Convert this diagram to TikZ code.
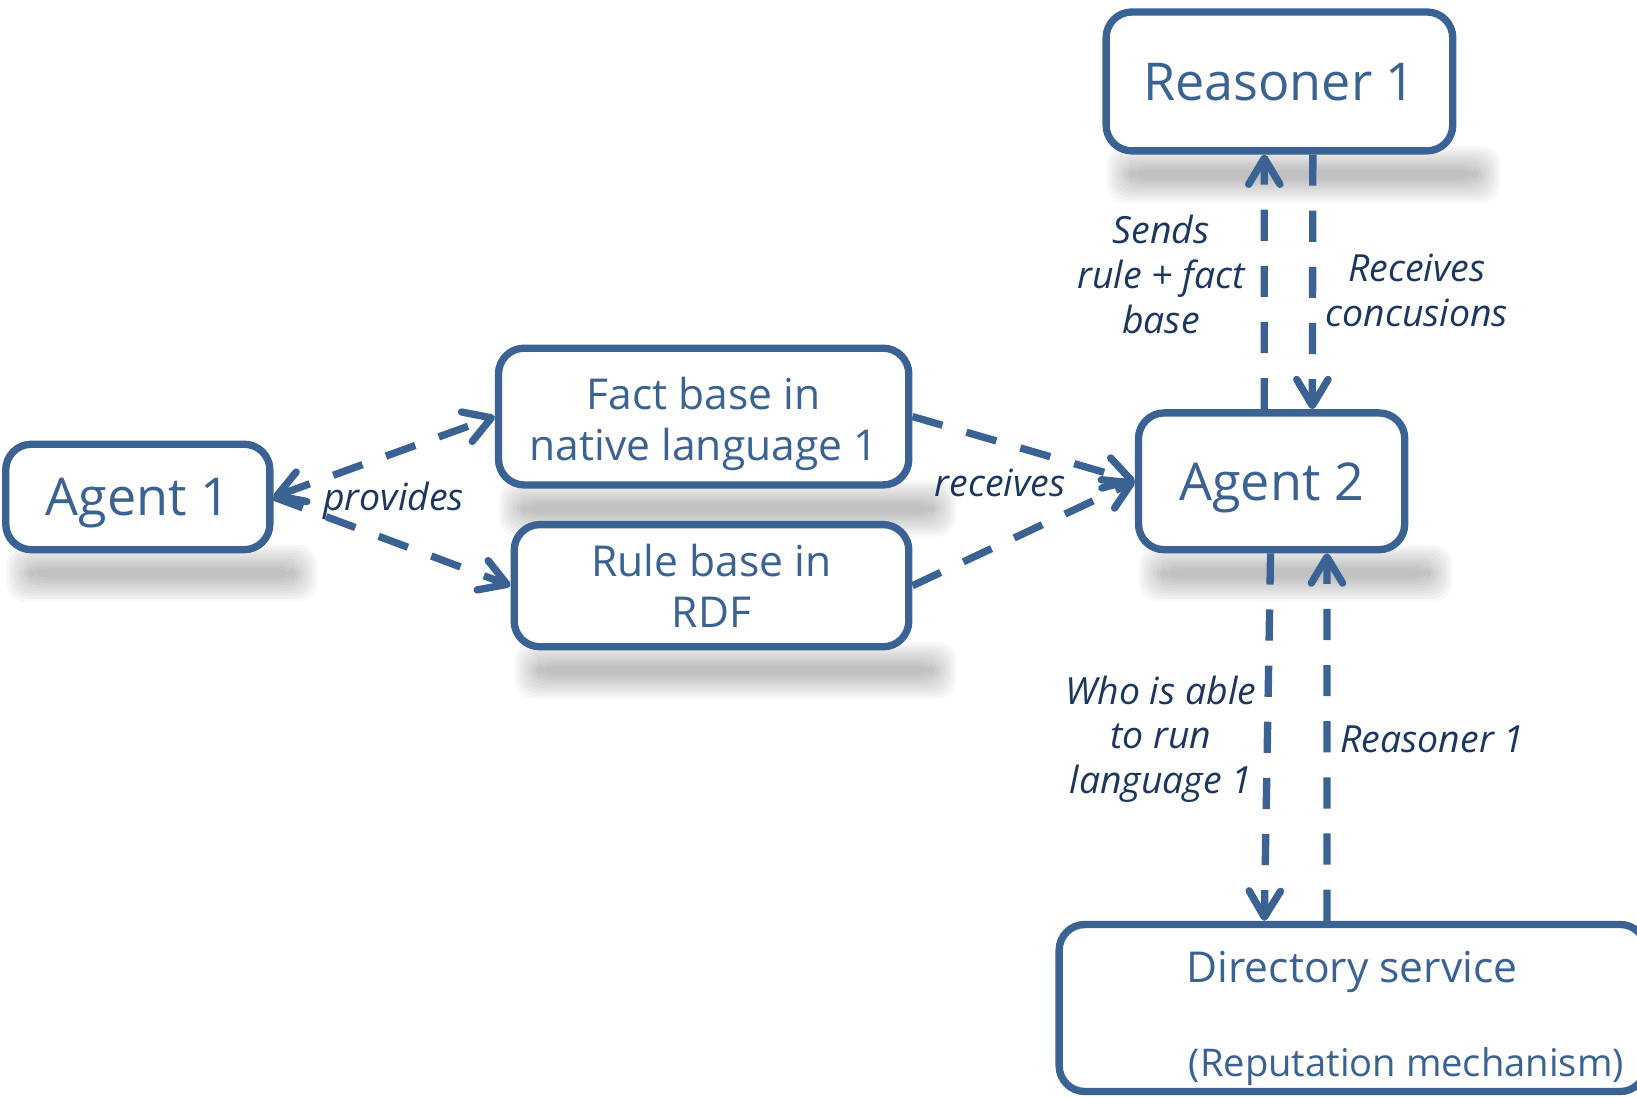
\documentclass[tikz,border=0pt]{standalone}
\usepackage{fontspec}
\setmainfont{Open Sans}
\usepackage{pgf, tikz}
\usepackage{xcolor}
\usetikzlibrary{arrows.meta,backgrounds,calc}

\definecolor{boxblue}{HTML}{3A6293}
\definecolor{labelblue}{HTML}{1C375E}

% soft grey shadow under a box
\newcommand{\boxshade}[1]{%
\begin{scope}[on background layer]
\foreach \k in {0,...,9}
  \fill[black,opacity=0.026,rounded corners=5pt]
    ($(#1.south west)+(0.04+0.025*\k,0.08-0.025*\k)$) rectangle
    ($(#1.south east)+(0.42-0.025*\k,-0.46+0.025*\k)$);
\end{scope}}

\begin{document}
\begin{tikzpicture}[
  box/.style={draw=boxblue,line width=2pt,rounded corners=7pt,fill=white,text=boxblue,align=center,inner sep=0pt},
  big/.style={font=\fontsize{14.2}{17}\selectfont,text depth=0pt},
  mid/.style={font=\fontsize{11.6}{13.9}\selectfont},
  link/.style={draw=boxblue,line width=2pt,dash pattern=on 8.5pt off 6.8pt,>={Straight Barb[length=2.5mm,width=3mm,round]}},
  lab/.style={text=labelblue,font=\fontsize{10.2}{12.2}\selectfont\itshape,align=center,inner sep=0pt}]
\useasboundingbox (0,0) rectangle (15.68,-10.51);

\node[box,big,minimum width=2.53cm,minimum height=1.01cm] (1) at (1.32,-4.76) {Agent 1};
\node[box,mid,minimum width=3.93cm,minimum height=1.31cm] (2) at (6.74,-3.99) {\rule{0pt}{12.6pt}Fact base in\\native language 1};
\node[box,mid,minimum width=3.78cm,minimum height=1.17cm] (3) at (6.815,-5.61) {Rule base in\\RDF};
\node[box,big,minimum width=2.55cm,minimum height=1.31cm] (4) at (12.18,-4.61) {Agent 2};
\node[box,big,minimum width=3.32cm,minimum height=1.33cm] (5) at (12.255,-0.78) {Reasoner 1};
\node[box,minimum width=5.62cm,minimum height=1.6cm] (6) at (12.955,-9.655) {};
\node[mid,text=boxblue] (7) at (12.95,-9.31) {Directory service};
\node[text=boxblue,font=\fontsize{10.4}{12.5}\selectfont] (8) at (13.47,-10.22) {(Reputation mechanism)};

\boxshade{1}
\boxshade{2}
\boxshade{3}
\boxshade{4}
\boxshade{5}

\node[lab] (9) at (3.77,-4.8) {provides};
\node[lab] (10) at (9.58,-4.63) {receives};
\node[lab] (11) at (11.12,-2.63) {Sends\\rule + fact\\base};
\node[lab] (12) at (13.57,-2.78) {Receives\\concusions};
\node[lab] (13) at (11.12,-7.08) {Who is able\\to run\\language 1};
\node[lab] (14) at (13.72,-7.08) {Reasoner 1};

\draw[link,<->] (1.east) -- (2.west);
\draw[link,->] (1.east) -- (3.west);
\draw[link,->] (2.east) -- (4.west);
\draw[link,->] (3.east) -- (4.west);
\draw[link,->] ([xshift=-0.07cm]4.north) -- ([xshift=-0.145cm]5.south);
\draw[link,->] ([xshift=0.32cm]5.south) -- ([xshift=0.39cm]4.north);
\draw[link,->] ([xshift=-0.01cm]4.south) -- ([xshift=-0.845cm]6.north);
\draw[link,->] ([xshift=-0.245cm]6.north) -- ([xshift=0.53cm]4.south);
\end{tikzpicture}
\end{document}
